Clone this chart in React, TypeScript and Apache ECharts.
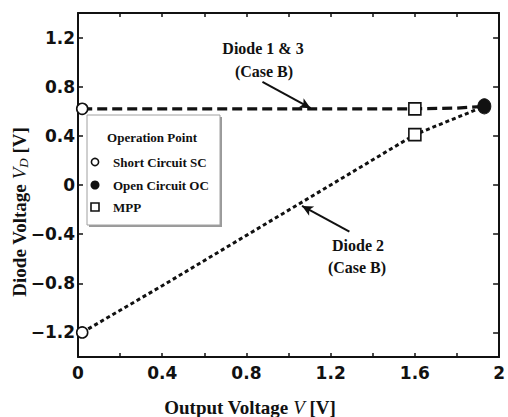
import React, { useEffect, useRef } from "react";
import * as echarts from "echarts";

// Data
const diode13 = [
  [0.02, 0.62],
  [1.6, 0.62],
  [1.8, 0.626],
  [1.93, 0.64],
];
const diode2 = [
  [0.02, -1.2],
  [0.4, -0.82],
  [0.8, -0.41],
  [1.2, 0.0],
  [1.6, 0.41],
  [1.93, 0.64],
];
const shortCircuit = [
  [0.02, 0.62],
  [0.02, -1.2],
];
const openCircuit = [[1.93, 0.64]];
const mpp = [
  [1.6, 0.62],
  [1.6, 0.41],
];
const yTickValues = [-1.2, -0.8, -0.4, 0, 0.4, 0.8, 1.2];
const arrow13 = [
  [0.876, 0.84],
  [1.105, 0.625],
];
const arrow2 = [
  [1.289, -0.38],
  [1.064, -0.17],
];
const legendTitle = "Operation Point";
const legendItems = ["Short Circuit SC", "Open Circuit OC", "MPP"];

const SERIF = "Liberation Serif";
const SANS = "DejaVu Sans";
const INK = "#111";

export default function App() {
  const ref = useRef<HTMLDivElement>(null);

  useEffect(() => {
    if (!ref.current) return;
    const chart = echarts.init(ref.current, undefined, { renderer: "svg" });
    const fmtY = (v: number) =>
      String(Math.round(v * 10) / 10).replace("-", "\u2212");
    const fmtX = (v: number) => String(Math.round(v * 10) / 10);
    const serifBold = { fontFamily: SERIF, fontWeight: "bold", fill: INK };

    chart.setOption({
      animation: false,
      backgroundColor: "#fff",
      grid: { left: 78, right: 7, top: 13, bottom: 60, containLabel: false },
      xAxis: [
        {
          type: "value",
          position: "bottom",
          min: 0,
          max: 2,
          interval: 0.4,
          axisLine: { show: true, onZero: false, lineStyle: { color: INK, width: 2 } },
          axisTick: { show: true, inside: true, length: 4, lineStyle: { color: INK, width: 1.5 } },
          minorTick: { show: true, splitNumber: 2, length: 4, lineStyle: { color: INK, width: 1.5 } },
          axisLabel: {
            margin: 7,
            fontFamily: SANS,
            fontWeight: "bold",
            fontSize: 17,
            color: INK,
            formatter: fmtX,
            showMaxLabel: true,
            showMinLabel: true,
          },
          splitLine: { show: false },
        },
        {
          type: "value",
          position: "top",
          min: 0,
          max: 2,
          interval: 0.4,
          axisLine: { show: true, onZero: false, lineStyle: { color: INK, width: 2 } },
          axisTick: { show: true, inside: true, length: 4, lineStyle: { color: INK, width: 1.5 } },
          minorTick: { show: true, splitNumber: 2, length: 4, lineStyle: { color: INK, width: 1.5 } },
          axisLabel: { show: false },
          splitLine: { show: false },
        },
      ],
      yAxis: [
        {
          type: "value",
          position: "left",
          min: -1.4,
          max: 1.4,
          axisLine: { show: true, onZero: false, lineStyle: { color: INK, width: 2 } },
          axisTick: {
            show: true,
            inside: true,
            length: 5,
            customValues: yTickValues,
            lineStyle: { color: INK, width: 1.5 },
          },
          axisLabel: {
            margin: 3,
            customValues: yTickValues,
            fontFamily: SANS,
            fontWeight: "bold",
            fontSize: 17,
            color: INK,
            formatter: fmtY,
          },
          splitLine: { show: false },
        },
        {
          type: "value",
          position: "right",
          min: -1.4,
          max: 1.4,
          axisLine: { show: true, onZero: false, lineStyle: { color: INK, width: 2 } },
          axisTick: {
            show: true,
            inside: true,
            length: 6,
            customValues: yTickValues,
            lineStyle: { color: INK, width: 1.5 },
          },
          axisLabel: { show: false },
          splitLine: { show: false },
        },
      ],
      series: [
        {
          name: "Diode 1 & 3 (Case B)",
          type: "line",
          data: diode13,
          showSymbol: false,
          symbol: "none",
          lineStyle: { color: INK, width: 3.2, type: [10, 5] },
          silent: true,
          z: 2,
          markLine: {
            silent: true,
            symbol: ["none", "arrow"],
            symbolSize: [8, 11],
            label: { show: false },
            lineStyle: { color: INK, width: 2, type: "solid", opacity: 1 },
            itemStyle: { color: INK },
            emphasis: { disabled: true },
            data: [
              [{ coord: arrow13[0] }, { coord: arrow13[1] }],
              [{ coord: arrow2[0] }, { coord: arrow2[1] }],
            ],
          },
        },
        {
          name: "Diode 2 (Case B)",
          type: "line",
          data: diode2,
          showSymbol: false,
          symbol: "none",
          lineStyle: { color: INK, width: 3, type: [4, 3] },
          silent: true,
          z: 2,
        },
        {
          name: legendItems[0],
          type: "scatter",
          data: shortCircuit,
          symbol: "circle",
          symbolSize: 11,
          itemStyle: { color: "#fff", borderColor: INK, borderWidth: 1.6, opacity: 1 },
          z: 5,
        },
        {
          name: legendItems[1],
          type: "scatter",
          data: openCircuit,
          symbol: "circle",
          symbolSize: [13, 15],
          itemStyle: { color: INK, borderColor: INK, borderWidth: 1, opacity: 1 },
          z: 5,
        },
        {
          name: legendItems[2],
          type: "scatter",
          data: mpp,
          symbol: "rect",
          symbolSize: 12,
          itemStyle: { color: "#fff", borderColor: INK, borderWidth: 1.6, opacity: 1 },
          z: 5,
        },
      ],
      graphic: [
        // legend box
        {
          type: "rect",
          shape: { x: 89, y: 117, width: 133, height: 110 },
          style: { fill: "#9a9a9a" },
          z: 10,
        },
        {
          type: "rect",
          shape: { x: 87, y: 115, width: 133, height: 110 },
          style: { fill: "#fff", stroke: "#a0a0a0", lineWidth: 1 },
          z: 11,
        },
        {
          type: "text",
          x: 152,
          y: 137,
          style: { ...serifBold, text: legendTitle, fontSize: 13, align: "center", verticalAlign: "middle" },
          z: 12,
        },
        {
          type: "circle",
          shape: { cx: 95, cy: 162, r: 3.6 },
          style: { fill: "#fff", stroke: INK, lineWidth: 1.6 },
          z: 12,
        },
        {
          type: "circle",
          shape: { cx: 95, cy: 185, r: 4.5 },
          style: { fill: INK },
          z: 12,
        },
        {
          type: "rect",
          shape: { x: 91, y: 203, width: 8, height: 8 },
          style: { fill: "#fff", stroke: INK, lineWidth: 1.6 },
          z: 12,
        },
        ...legendItems.map((t, i) => ({
          type: "text",
          x: 113,
          y: [162, 185, 207][i],
          style: { ...serifBold, text: t, fontSize: 13, align: "left", verticalAlign: "middle" },
          z: 12,
        })),
        // annotations
        {
          type: "text",
          x: 263,
          y: 48,
          style: { ...serifBold, text: "Diode 1 & 3", fontSize: 16, align: "center", verticalAlign: "middle" },
        },
        {
          type: "text",
          x: 264,
          y: 71,
          style: { ...serifBold, text: "(Case B)", fontSize: 16, align: "center", verticalAlign: "middle" },
        },
        {
          type: "text",
          x: 358,
          y: 245,
          style: { ...serifBold, text: "Diode 2", fontSize: 16, align: "center", verticalAlign: "middle" },
        },
        {
          type: "text",
          x: 357,
          y: 267,
          style: { ...serifBold, text: "(Case B)", fontSize: 16, align: "center", verticalAlign: "middle" },
        },
        // axis titles
        {
          type: "text",
          x: 250,
          y: 407,
          style: {
            text: "{b|Output Voltage }{i|V}{b| [V]}",
            align: "center",
            verticalAlign: "middle",
            rich: {
              b: { fontFamily: SERIF, fontWeight: "bold", fontSize: 19, fill: INK },
              i: { fontFamily: SERIF, fontStyle: "italic", fontSize: 19, fill: INK },
            },
          },
        },
        {
          type: "text",
          x: 19,
          y: 212,
          rotation: Math.PI / 2,
          style: {
            text: "{b|Diode Voltage }{i|V}{s|D}{b| [V]}",
            align: "center",
            verticalAlign: "middle",
            rich: {
              b: { fontFamily: SERIF, fontWeight: "bold", fontSize: 19, fill: INK },
              i: { fontFamily: SERIF, fontStyle: "italic", fontSize: 19, fill: INK },
              s: { fontFamily: SERIF, fontStyle: "italic", fontSize: 13, fill: INK, padding: [9, 0, 0, 0] },
            },
          },
        },
      ],
    });
    return () => chart.dispose();
  }, []);

  return (
    <div
      ref={ref}
      style={{ position: "fixed", left: 0, top: 0, width: 508, height: 417, background: "#fff" }}
    />
  );
}
